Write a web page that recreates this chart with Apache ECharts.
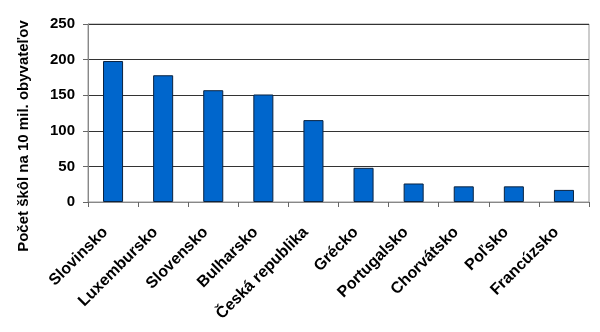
<!DOCTYPE html>
<html>
<head>
<meta charset="utf-8">
<script src="https://cdn.jsdelivr.net/npm/echarts@6/dist/echarts.min.js"></script>
<style>
html,body{margin:0;padding:0;background:#fff;}
#chart{width:600px;height:332px;}
</style>
</head>
<body>
<div id="chart"></div>
<script>
// Schools per 10 million inhabitants, by country
const countries = ['Slovinsko','Luxembursko','Slovensko','Bulharsko','Česká republika','Grécko','Portugalsko','Chorvátsko','Poľsko','Francúzsko'];
const schools = [198, 178, 157, 151, 115, 48, 26, 22, 22, 17];
const yTitle = 'Počet škôl na 10 mil. obyvateľov';

const FONT = 'Liberation Sans, Arial, sans-serif';
const chart = echarts.init(document.getElementById('chart'));
chart.setOption({
  animation: false,
  grid: {
    left: 88, right: 11, top: 24, bottom: 130,
    outerBoundsMode: 'none', containLabel: false,
    show: true, borderColor: '#999', borderWidth: 1
  },
  xAxis: {
    type: 'category',
    data: countries,
    axisLine: { lineStyle: { color: '#888', width: 1 } },
    axisTick: { show: true, length: 5, lineStyle: { color: '#666' } },
    axisLabel: {
      rotate: 45, interval: 0, margin: 20, padding: [0, 11, 0, 0],
      fontFamily: FONT, fontWeight: 'bold', fontSize: 16, color: '#000'
    }
  },
  yAxis: {
    type: 'value', min: 0, max: 250, interval: 50,
    name: yTitle, nameLocation: 'middle', nameGap: 57,
    nameTextStyle: { fontFamily: FONT, fontWeight: 'bold', fontSize: 15, color: '#000', padding: [0, 46, 0, 0] },
    axisLine: { show: true, lineStyle: { color: '#888' } },
    axisTick: { show: true, length: 5, lineStyle: { color: '#666' } },
    axisLabel: { fontFamily: FONT, fontWeight: 'bold', fontSize: 15, color: '#000', margin: 13 },
    splitLine: { lineStyle: { color: '#333', width: 1 } }
  },
  series: [{
    type: 'bar',
    data: schools,
    barWidth: '40%',
    itemStyle: { color: '#0066cc', borderColor: '#0a2340', borderWidth: 1 }
  }]
});
</script>
</body>
</html>
